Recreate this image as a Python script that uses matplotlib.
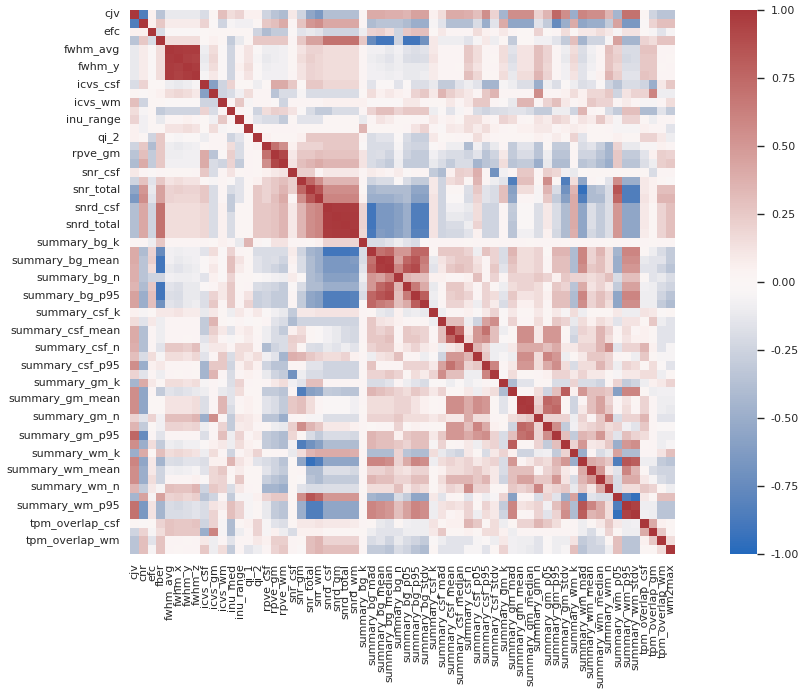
import numpy as np
import pandas as pd
import matplotlib
matplotlib.use('Agg')
import matplotlib.pyplot as plt
import seaborn as sns

stats = ['k', 'mad', 'mean', 'median', 'n', 'p05', 'p95', 'stdv']
labels = ['cjv', 'cnr', 'efc', 'fber', 'fwhm_avg', 'fwhm_x', 'fwhm_y', 'fwhm_z',
          'icvs_csf', 'icvs_gm', 'icvs_wm', 'inu_med', 'inu_range', 'qi_1', 'qi_2',
          'rpve_csf', 'rpve_gm', 'rpve_wm', 'snr_csf', 'snr_gm', 'snr_total', 'snr_wm',
          'snrd_csf', 'snrd_gm', 'snrd_total', 'snrd_wm']
for tissue in ['bg', 'csf', 'gm', 'wm']:
    labels += ['summary_%s_%s' % (tissue, s) for s in stats]
labels += ['tpm_overlap_csf', 'tpm_overlap_gm', 'tpm_overlap_wm', 'wm2max']

# upper triangle, correlations in hundredths
row_00 = [-85,5,-35,-12,-12,-12,-12,-20,2, 30,15,20,5,5,-25,-35,-40,10,-25, -55,-65,-38,-38,-38,-38,3,40,40,38, 38,35,45,45,5,15,40,40,38,30, 55,20,-45,55,55,55,20,35,75,55, -50,60,55,55,35,-45,70,70,2,-25,-35,-35]
row_01 = [5,25,8,8,8,8,20,-3, -25,-5,-8,-8,2,25,30,40,3,28, 50,55,42,42,42,42,3,-40,-35,-35, -35,-40,-50,-50,-5,-15,-38,-38,-38,-20, -50,-15,40,-55,-55,-55,-15,-30,-75,-50, 40,-55,-50,-50,-30,45,-65,-65,-2,20,30,30]
row_02 = [-20,-3,-3,-3,-3,0,2, 2,2,2,2,-25,-40,-30,-30,-2,-15, -12,-15,-25,-25,-25,-25,-10,20,22,15, -25,25,30,30,0,10,3,3,3,15, 5,3,10,3,0,0,20,0,3,15, 0,10,10,15,10,-5,12,12,0,-5,-15,-5]
row_03 = [15,15,15,15,0,5, 2,-30,-12,2,25,25,25,25,3,25, 45,45,70,70,70,70,25,-75,-90,-90, -25,-90,-90,-70,10,-10,-10,-10,-15,-5, 10,-10,2,-30,0,0,-8,-8,-15,-30, 30,-45,-25,-25,-5,45,-45,-45,20,15,28,28]
row_04 = [98,97,97,-10,15, -2,-25,3,12,-3,-10,-10,-8,2,12, 20,20,15,15,15,15,3,-8,-8,-12, -8,-15,-18,-15,10,3,3,3,25,15, 3,3,15,-15,12,12,30,20,3,-10, 15,-18,-8,3,30,20,-20,-20,28,28,3,3]
row_05 = [96,94,-12,18, -3,-25,3,12,-5,-12,-10,-8,2,15, 22,18,15,15,15,15,3,-10,-12,-15, -10,-18,-20,-18,12,3,3,3,25,15, 3,2,15,-18,12,12,30,20,3,-12, 18,-20,-10,3,28,22,-22,-20,25,25,3,2]
row_06 = [97,-10,15, -2,-25,5,15,-3,-10,-8,-8,2,12, 20,18,15,15,15,15,3,-8,-10,-12, -10,-12,-12,-12,8,3,3,2,22,12, 3,3,12,-15,12,12,30,18,3,-8, 15,-15,-8,3,28,18,-18,-18,25,25,2,3]
row_07 = [-5,10, -2,-25,3,12,-2,-8,-8,-8,3,12, 20,18,15,15,15,15,3,-8,-8,-10, -8,-12,-12,-10,8,3,3,3,30,18, 2,2,15,-12,15,15,35,20,3,-8, 12,-15,-5,5,35,22,-15,-15,28,25,3,3]
row_08 = [-60, -25,20,0,0,-10,0,40,40,25,0, 25,25,18,18,18,18,3,-15,-3,-3, -15,-3,-18,-18,-12,-30,-30,-15,-10,-15, -45,-45,-5,-10,-18,-18,-50,-10,-18,-3, -10,-18,-15,-3,-25,-35,-20,-20,-25,-50,10,25]
row_09 = [-25,-20,-8,15,3,3,-35,-20,-20,-5, -20,-20,-20,-20,-20,-20,0,15,5,10, 5,3,20,25,10,35,22,15,10,3, 25,35,3,3,3,3,55,3,3,5, 15,5,18,18,25,-25,12,20,20,60,-10,-10]
row_10 = [3,25,-5,3,3,-3,-25,3,3, 3,3,5,5,5,5,5,-2,-2,-2, -2,10,10,3,2,2,10,3,10,25, 25,3,-3,-12,35,35,3,20,30,10, 3,5,25,20,20,3,8,3,-5,-5,3,15]
row_11 = [3,-2,-25,15,22,20,12,-2, -20,-30,-30,-20,-20,-20,3,20,30,30, 20,25,25,25,-10,-3,-15,-5,3,-20, -25,-20,-18,-15,-15,-20,-30,-30,-10,-10, -25,35,3,0,-20,-30,30,30,-40,-40,-15,-30]
row_12 = [3,-15,-20,-20,-30,2,-15, -15,-15,2,2,2,2,-12,3,12,8, 2,2,3,3,10,3,5,2,15,15, 5,3,20,15,3,2,12,8,20,15, 3,12,8,25,10,-5,20,20,2,-10,3,3]
row_13 = [2,2,3,3,3,2, 2,2,2,2,2,2,35,2,2,2, 2,3,12,20,3,-2,10,8,15,8, 15,5,3,2,5,5,10,10,3,5, 8,5,2,2,3,-5,-5,-5,5,3,3,-15]
row_14 = [5,2,2,2,5, 25,25,25,25,25,25,3,-20,-15,-15, -2,-20,-28,-28,10,0,2,3,3,15, 5,3,2,2,2,2,5,3,8,2, 20,-15,2,2,2,5,2,2,20,20,10,-10]
row_15 = [70,55,5,20, 20,20,25,25,25,25,-3,-20,-20,-20, -5,-22,-25,-25,-3,3,-10,-10,-40,-8, -25,-12,3,-30,-15,-15,-35,2,-30,-30, 2,-20,-15,-28,-45,20,-12,-12,-5,-5,5,3]
row_16 = [92,10,25, 25,30,28,28,28,28,12,-20,-18,-25, -8,-25,-30,-30,-8,-15,-20,-20,-25,-15, -35,-25,10,-30,-20,-20,-35,-10,-35,-35, 3,-25,-25,-35,-45,25,-30,-30,-15,5,22,20]
row_17 = [12,30, 35,40,35,35,35,35,12,-20,-25,-30, -10,-30,-30,-30,-12,-20,-30,-20,-20,-45, -35,-30,15,-35,-30,-30,-50,-12,-40,-40, 3,-35,-30,-40,-50,25,-35,-35,-18,-10,22,25]
row_18 = [22, 22,3,10,10,10,10,3,8,5,3, 8,-3,3,3,-30,-40,5,22,20,38, 3,-70,-8,3,25,25,3,22,18,-8, -12,0,2,2,2,2,2,2,2,-20,3,3]
row_19 = [75,55,35,35,35,35,3,-25,-20,-20, -2,-20,-30,-30,10,-25,15,20,2,35, 3,-10,-15,-85,30,30,2,55,2,-85, 15,-55,3,-2,-15,55,-50,-50,10,5,2,-2]
row_20 = [85,55,55,55,55,2,-45,-40,-40, -40,-40,-55,-55,10,-25,2,2,-18,25, -15,-20,30,-60,15,15,-5,35,-20,-70, 35,-95,-40,-35,-20,85,-85,-85,10,5,30,30]
row_21 = [60,60,60,60,5,-50,-50,-50, -45,-40,-60,-60,12,-25,-3,-3,-20,20, -15,-20,30,-55,3,3,-5,25,-30,-60, 40,-85,-40,-40,-20,75,-85,-85,12,5,35,35]
row_22 = [98,98,97,20,-90,-65,-65, -60,-50,-85,-85,12,-25,-8,-8,-12,15, -25,-25,3,-30,-3,-3,-18,10,-20,-40, 40,-55,-18,-30,-18,50,-55,-55,10,2,20,30]
row_23 = [99,98,20,-90,-65,-65, -60,-50,-85,-85,12,-25,-12,-12,-15,15, -25,-25,3,-32,-3,-3,-18,10,-20,-40, 40,-55,-18,-30,-18,50,-55,-55,10,2,20,30]
row_24 = [98,20,-90,-65,-65, -60,-50,-85,-85,12,-25,-20,-20,-10,20, -25,-25,3,-35,-3,-3,-18,10,-20,-40, 40,-55,-18,-30,-18,50,-55,-55,10,2,20,30]
row_25 = [18,-88,-62,-65, -58,-50,-82,-82,12,-25,-22,-22,-15,5, -25,-25,3,-35,-8,-8,-18,5,-22,-40, 38,-55,-22,-30,-18,50,-55,-55,8,2,20,30]
row_26 = [-20,-20,-15, -10,-15,-20,-3,3,3,3,3,2,3, 3,2,3,3,3,2,3,3,3,2, 3,3,3,3,2,3,3,2,3,2,3,3]
row_27 = [70,75, 50,50,75,75,2,25,25,25,20,-10, 28,20,-20,35,15,15,20,0,35,35, -40,60,20,35,15,-45,60,60,2,-10,-20,-30]
row_28 = [97, 45,75,85,65,-12,12,20,25,25,12, 3,20,-20,30,15,15,20,3,30,30, -40,60,20,30,15,-50,55,55,-12,-15,-15,-30]
row_29 = [60,85,90,60,-15,10,25,30,25,15, 3,25,-15,25,15,15,20,3,30,30, -40,55,25,30,15,-50,50,50,-15,-15,-25,-35]
row_30 = [35,30,30,5,5,3,3,5,30, 3,20,3,20,20,20,25,20,5,25, 20,20,15,20,30,-20,30,30,2,-15,-12,-20]
row_31 = [65,40,-12,3,25,25,12,3, 20,2,-10,15,20,20,15,2,25,20, -35,40,12,20,10,-30,45,45,-8,-10,-20,-25]
row_32 = [80,-10,2,22,25,20,3, 20,15,-15,25,12,12,15,5,30,30, -40,60,20,30,20,-55,60,60,-10,-10,-25,-35]
row_33 = [-12,3,20,20,10,-10, 20,8,-20,20,5,5,15,3,30,30, -40,55,20,30,15,-55,55,55,-10,-10,-30,-40]
row_34 = [-10,3,3,5,-3, 10,20,-2,10,2,2,10,2,10,-5, 15,-10,2,2,2,10,-10,-10,12,10,-2,2]
row_35 = [30,30,-10,-25, 45,55,-2,20,3,3,15,2,25,20, -12,15,5,15,10,-15,12,12,2,25,-10,-15]
row_36 = [75,10,50, 70,30,-10,2,55,55,10,50,50,2, -20,20,15,35,20,3,15,3,5,2,-15,-15]
row_37 = [15,50, 55,30,-3,2,55,55,10,50,50,3, -25,15,15,35,15,2,12,5,5,2,-15,-15]
row_38 = [35, 20,-10,-10,10,40,40,40,30,40,10, 10,20,20,35,55,-15,20,20,35,5,-15,-5]
row_39 = [25,-10,-5,-10,55,55,15,60,50,-10, 2,10,25,25,20,3,2,-10,25,2,-5,-5]
row_40 = [60,3,10,50,50,15,40,55,15, -20,15,15,35,20,-10,20,15,2,15,-3,-15]
row_41 = [-3,15,2,2,3,5,20,20, 10,20,10,10,2,-5,10,10,15,15,-10,2]
row_42 = [-40,-15,-15,2,2,-20,-20, 20,-20,-20,-25,2,20,-30,-25,-10,5,10,20]
row_43 = [3,3,15,-25,30,80, 5,50,30,30,25,-60,60,60,2,-10,-8,-8]
row_44 = [98,20,75,70,2, -25,3,30,45,20,3,12,2,20,3,-10,-10]
row_45 = [25,70,75,2, -25,10,30,45,25,3,15,3,20,3,-10,-12]
row_46 = [20,20,20, -10,20,3,25,60,-20,20,20,35,3,-15,-15]
row_47 = [55,-30, -8,15,20,25,15,20,-8,-15,25,3,-2,-2]
row_48 = [30, -30,35,30,50,20,-15,30,20,15,3,-10,-10]
row_49 = [20,50,10,12,25,-50,50,55,2,3,-10,-5]
row_50 = [-50,3,-20,-12,45,-40,-40,3,3,12,30]
row_51 = [40,35,25,-85,85,80,-10,-10,-30,-35]
row_52 = [50,10,-15,60,35,2,-20,-25,-25]
row_53 = [40,-20,40,40,10,-5,-20,-25]
row_54 = [-20,15,15,25,20,2,-10]
row_55 = [-85,-95,10,2,30,30]
row_56 = [95,-10,-10,-35,-35]
row_57 = [-8,-10,-35,-35]
row_58 = [40,5,2]
row_59 = [25,2]
row_60 = [15]

rows = [row_00, row_01, row_02, row_03, row_04, row_05, row_06, row_07, row_08, row_09,
        row_10, row_11, row_12, row_13, row_14, row_15, row_16, row_17, row_18, row_19,
        row_20, row_21, row_22, row_23, row_24, row_25, row_26, row_27, row_28, row_29,
        row_30, row_31, row_32, row_33, row_34, row_35, row_36, row_37, row_38, row_39,
        row_40, row_41, row_42, row_43, row_44, row_45, row_46, row_47, row_48, row_49,
        row_50, row_51, row_52, row_53, row_54, row_55, row_56, row_57, row_58, row_59,
        row_60]

n = len(labels)
corr = np.eye(n)
for i, r in enumerate(rows):
    assert len(r) == n - i - 1, (i, len(r))
    corr[i, i + 1:] = np.array(r) / 100
    corr[i + 1:, i] = np.array(r) / 100
corr = pd.DataFrame(corr, index=labels, columns=labels)

sns.set()
fig = plt.figure(figsize=(8.07, 6.95), dpi=100)
W, H = 807, 695
ax = fig.add_axes([130 / W, 1 - 554 / H, 545 / W, 544 / H])
cax = fig.add_axes([730 / W, 1 - 554 / H, 27 / W, 544 / H])

sns.heatmap(corr, ax=ax, cbar_ax=cax, cmap='vlag', vmin=-1, vmax=1,
            xticklabels=True, yticklabels=2)
ax.tick_params(axis='both', labelsize=7.9, length=0, pad=7)
plt.setp(ax.get_xticklabels(), rotation=90)
plt.setp(ax.get_yticklabels(), rotation=0)

cax.set_yticks(np.arange(-1, 1.01, 0.25))
cax.set_yticklabels(['%.2f' % v for v in np.arange(-1, 1.01, 0.25)])
cax.tick_params(axis='y', right=True, length=5, width=1, color='.15', labelsize=7.9, pad=5)

fig.savefig('out.png', dpi=100)
